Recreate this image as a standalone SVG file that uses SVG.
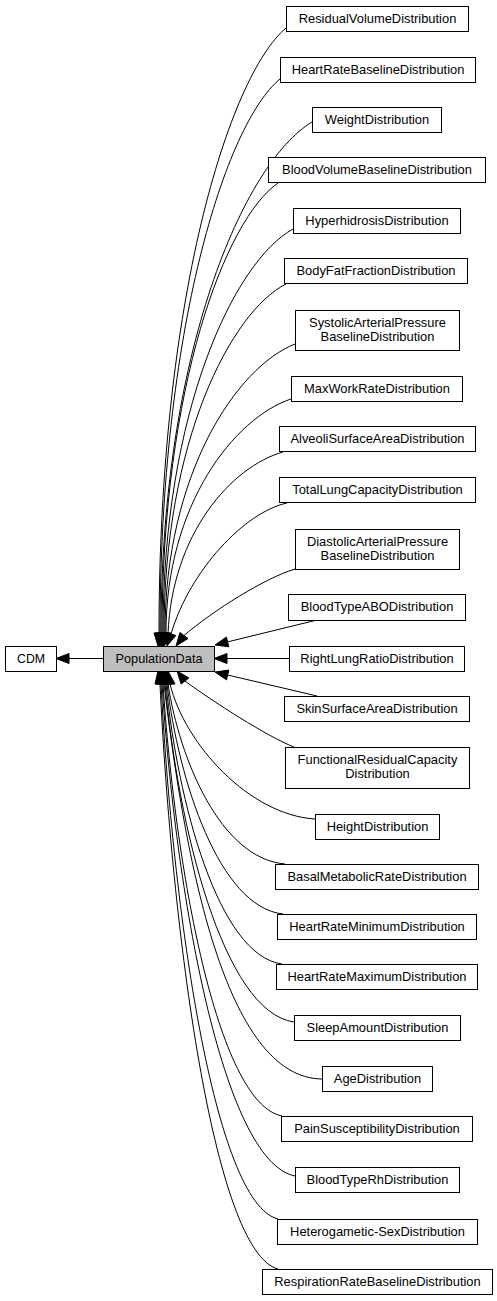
<svg xmlns="http://www.w3.org/2000/svg" width="497" height="1301" viewBox="0 0 497 1301">
<style>
.n rect{fill:#fff;stroke:#000;stroke-width:1}
.n.p rect{fill:#bfbfbf}
.n text{font-family:"Liberation Sans",Arial,sans-serif;font-size:12.9px;fill:#000;text-anchor:middle}
.e path{fill:none;stroke:#000;stroke-width:1}
.e polygon{fill:#000;stroke:#000;stroke-width:1}
</style>
<rect width="497" height="1301" fill="#fff"/>
<g id="connectors" class="e">
<path d="M103,658.5 L69,658.5"/><polygon points="69,653.5 69,663.5 56,658.5"/>
<path d="M286,28 C228.8,76.4 159,300.2 159,633"/><polygon points="154,633 164,633 158,646"/>
<path d="M280,79 C226,123.3 160,328.3 160,633"/><polygon points="155,633 165,633 159,646"/>
<path d="M312,122 C244,163 161,352 161,633"/><polygon points="156,633 166,633 160,646"/>
<path d="M278,183 C225.8,219 162,385.5 162,633"/><polygon points="157,633 167,633 161,646"/>
<path d="M293,229 C234.5,261.3 163,410.8 163,633"/><polygon points="158,633 168,633 162,646"/>
<path d="M286,284 C231.1,311.9 164,441 164,633"/><polygon points="159,633 169,633 162,646"/>
<path d="M295,344 C236.5,367.1 165,474 165,633"/><polygon points="160,633 170,633 163,646"/>
<path d="M291,399 C234.75,417.7 166,504.3 166,633"/><polygon points="161,633 171,633 163,646"/>
<path d="M283,452 C231.25,466.6 172,534 168,634"/><polygon points="172.7,635.6 163.3,632.4 164,646"/>
<path d="M287,503 C245,512 190,570 171,634"/><polygon points="175.8,635.4 166.2,632.6 167,646"/>
<path d="M295,569 C265,578 214,610 184,635.5"/><polygon points="188,638.5 180,632.5 176,646"/>
<path d="M317,620 L227.6,641.9"/><polygon points="228.8,646.8 226.4,637 215,645"/>
<path d="M289,658.5 L227,658.5"/><polygon points="227,653.5 227,663.5 214,658.5"/>
<path d="M317,696 L227.6,675"/><polygon points="228.8,670.1 226.5,679.9 215,672"/>
<path d="M294,747 C268,737 212,701 185,681"/><polygon points="188.9,677.9 181.1,684.1 177,671"/>
<path d="M315,819 C250,815 185,745 170,684"/><polygon points="165,684 175,684 168,671"/>
<path d="M285,864 C220.65,858.6 179.7,759.6 168,684"/><polygon points="163,684 173,684 166,671"/>
<path d="M283,914 C219.2,907.1 178.6,780.6 167,684"/><polygon points="162,684 172,684 165,671"/>
<path d="M282,964 C218.2,955.6 177.6,801.6 166,684"/><polygon points="161,684 171,684 164,671"/>
<path d="M294,1022 C223.05,1011.9 177.9,826 165,684"/><polygon points="160,684 170,684 163,671"/>
<path d="M322,1079 C225,1078 185,860 164,684"/><polygon points="159,684 169,684 162,671"/>
<path d="M282,1116 C216.55,1103 174.9,865.4 163,684"/><polygon points="158,684 168,684 161,671"/>
<path d="M295,1176 C221.85,1161.2 175.3,890.6 162,684"/><polygon points="157,684 167,684 160,671"/>
<path d="M278,1219 C213.65,1202.95 172.7,908.7 161,684"/><polygon points="156,684 166,684 159,671"/>
<path d="M278,1269 C213.1,1251.45 171.8,929.7 160,684"/><polygon points="155,684 165,684 158,671"/>
</g>
<g id="CDM" class="n"><rect x="5.5" y="646.5" width="51" height="25"/><text x="31" y="663" textLength="28" lengthAdjust="spacingAndGlyphs">CDM</text></g>
<g id="PopulationData" class="n p"><rect x="103.5" y="646.5" width="111" height="25"/><text x="159" y="663" textLength="87" lengthAdjust="spacingAndGlyphs">PopulationData</text></g>
<g id="ResidualVolumeDistribution" class="n"><rect x="286.5" y="6.5" width="182" height="25"/><text x="377.5" y="23">ResidualVolumeDistribution</text></g>
<g id="HeartRateBaselineDistribution" class="n"><rect x="280.5" y="57.5" width="195" height="25"/><text x="378" y="74">HeartRateBaselineDistribution</text></g>
<g id="WeightDistribution" class="n"><rect x="312.5" y="107.5" width="129" height="25"/><text x="377" y="124">WeightDistribution</text></g>
<g id="BloodVolumeBaselineDistribution" class="n"><rect x="268.5" y="157.5" width="217" height="25"/><text x="377" y="174">BloodVolumeBaselineDistribution</text></g>
<g id="HyperhidrosisDistribution" class="n"><rect x="293.5" y="208.5" width="167" height="25"/><text x="377" y="225">HyperhidrosisDistribution</text></g>
<g id="BodyFatFractionDistribution" class="n"><rect x="284.5" y="258.5" width="183" height="25"/><text x="376" y="275">BodyFatFractionDistribution</text></g>
<g id="SystolicArterialPressureBaselineDistribution" class="n"><rect x="295.5" y="310.5" width="164" height="40"/><text x="377.5" y="327">SystolicArterialPressure</text><text x="377.5" y="341">BaselineDistribution</text></g>
<g id="MaxWorkRateDistribution" class="n"><rect x="291.5" y="376.5" width="171" height="25"/><text x="377" y="393">MaxWorkRateDistribution</text></g>
<g id="AlveoliSurfaceAreaDistribution" class="n"><rect x="279.5" y="426.5" width="196" height="25"/><text x="377.5" y="443">AlveoliSurfaceAreaDistribution</text></g>
<g id="TotalLungCapacityDistribution" class="n"><rect x="279.5" y="477.5" width="196" height="25"/><text x="377.5" y="494">TotalLungCapacityDistribution</text></g>
<g id="DiastolicArterialPressureBaselineDistribution" class="n"><rect x="295.5" y="529.5" width="164" height="40"/><text x="377.5" y="546">DiastolicArterialPressure</text><text x="377.5" y="560">BaselineDistribution</text></g>
<g id="BloodTypeABODistribution" class="n"><rect x="288.5" y="594.5" width="177" height="26"/><text x="377" y="611">BloodTypeABODistribution</text></g>
<g id="RightLungRatioDistribution" class="n"><rect x="289.5" y="646.5" width="175" height="25"/><text x="377" y="663">RightLungRatioDistribution</text></g>
<g id="SkinSurfaceAreaDistribution" class="n"><rect x="284.5" y="696.5" width="185" height="25"/><text x="377" y="713">SkinSurfaceAreaDistribution</text></g>
<g id="FunctionalResidualCapacityDistribution" class="n"><rect x="285.5" y="747.5" width="184" height="41"/><text x="377.5" y="764">FunctionalResidualCapacity</text><text x="377.5" y="778">Distribution</text></g>
<g id="HeightDistribution" class="n"><rect x="315.5" y="814.5" width="124" height="25"/><text x="377.5" y="831">HeightDistribution</text></g>
<g id="BasalMetabolicRateDistribution" class="n"><rect x="275.5" y="864.5" width="203" height="25"/><text x="377" y="881">BasalMetabolicRateDistribution</text></g>
<g id="HeartRateMinimumDistribution" class="n"><rect x="277.5" y="914.5" width="199" height="25"/><text x="377" y="931">HeartRateMinimumDistribution</text></g>
<g id="HeartRateMaximumDistribution" class="n"><rect x="276.5" y="964.5" width="201" height="25"/><text x="377" y="981">HeartRateMaximumDistribution</text></g>
<g id="SleepAmountDistribution" class="n"><rect x="294.5" y="1015.5" width="166" height="25"/><text x="377.5" y="1032">SleepAmountDistribution</text></g>
<g id="AgeDistribution" class="n"><rect x="322.5" y="1066.5" width="110" height="25"/><text x="377.5" y="1083">AgeDistribution</text></g>
<g id="PainSusceptibilityDistribution" class="n"><rect x="281.5" y="1116.5" width="191" height="25"/><text x="377" y="1133">PainSusceptibilityDistribution</text></g>
<g id="BloodTypeRhDistribution" class="n"><rect x="295.5" y="1167.5" width="164" height="25"/><text x="377.5" y="1184">BloodTypeRhDistribution</text></g>
<g id="Heterogametic-SexDistribution" class="n"><rect x="277.5" y="1219.5" width="200" height="25"/><text x="377.5" y="1236">Heterogametic-SexDistribution</text></g>
<g id="RespirationRateBaselineDistribution" class="n"><rect x="262.5" y="1269.5" width="230" height="25"/><text x="377.5" y="1286">RespirationRateBaselineDistribution</text></g>
</svg>
